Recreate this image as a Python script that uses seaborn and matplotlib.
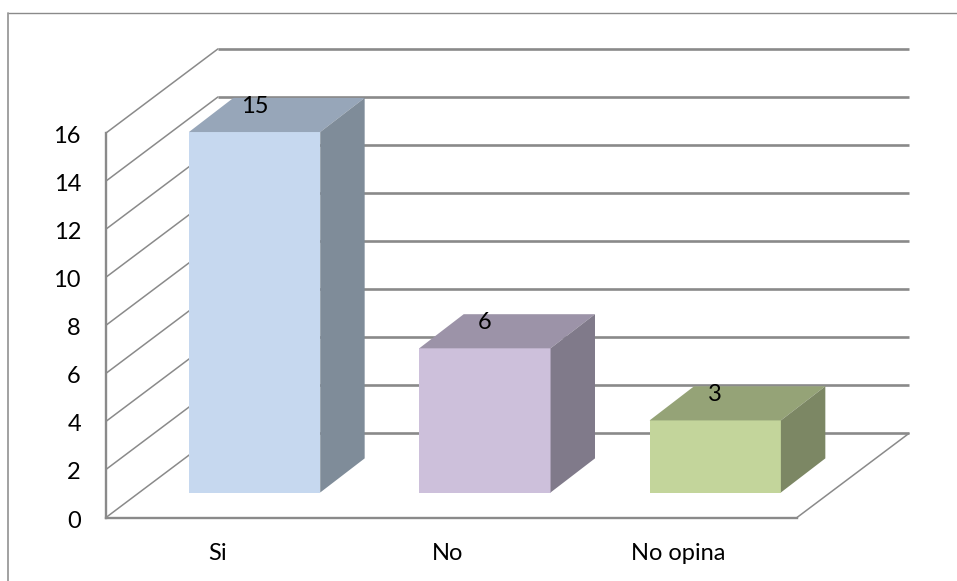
import matplotlib
matplotlib.use("Agg")
import matplotlib.pyplot as plt
from matplotlib.lines import Line2D
from matplotlib.patches import Polygon
from matplotlib.transforms import ScaledTranslation
import pandas as pd
import seaborn as sns

# Survey answers
categories = ["Si", "No", "No opina"]
counts = [15, 6, 3]
y_ticks = [0, 2, 4, 6, 8, 10, 12, 14, 16]

front_colors = ["#C6D8EF", "#CDC0DB", "#C3D59B"]
top_colors = ["#97A6B9", "#9C93A8", "#95A377"]
side_colors = ["#7F8C99", "#807A8A", "#7C8764"]

GRID = "#8A8A8A"
WALL_DX, WALL_DY = 0.486, 3.5      # depth of the chart floor, in data units
BAR_SHIFT_X, BAR_SHIFT_Y = 0.145, 1.04  # where bar fronts sit on the floor
BAR_DX, BAR_DY = 0.193, 1.42       # depth of each bar

W, H, DPI = 957, 581, 100
sns.set_theme(style="white")
plt.rcParams["font.family"] = ["Lato", "DejaVu Sans"]

fig = plt.figure(figsize=(W / DPI, H / DPI), dpi=DPI, facecolor="white")
ax = fig.add_axes([106 / W, 1 - 517.5 / H, 691 / W, 384.5 / H])
ax.patch.set_alpha(0)

df = pd.DataFrame({"respuesta": categories, "n": counts})
sns.barplot(data=df, x="respuesta", y="n", hue="respuesta", palette=front_colors,
            width=0.57, saturation=1, legend=False, ax=ax, zorder=5)

ax.set_xlim(-0.5, 2.5)
ax.set_ylim(0, 16)
ax.set_xlabel("")
ax.set_ylabel("")
ax.set_yticks(y_ticks)

# Back wall and side wall rules
x0, x1 = ax.get_xlim()
for k in y_ticks:
    ax.plot([x0 + WALL_DX, x1 + WALL_DX], [k + WALL_DY, k + WALL_DY], color=GRID,
            lw=1.9, clip_on=False, zorder=1, solid_capstyle="butt")
    ax.plot([x0, x0 + WALL_DX], [k, k + WALL_DY], color=GRID, lw=1.1,
            clip_on=False, zorder=1)
ax.plot([x1, x1 + WALL_DX], [0, WALL_DY], color=GRID, lw=1.1, clip_on=False, zorder=1)

# Extruded bars: the front face is shifted onto the floor, top and side are added
for i, (patch, value) in enumerate(zip(ax.patches, counts)):
    left = patch.get_x() + BAR_SHIFT_X
    right = left + patch.get_width()
    bottom = BAR_SHIFT_Y
    top = value + BAR_SHIFT_Y
    patch.set_x(left)
    patch.set_y(bottom)
    patch.set_height(top - bottom)
    patch.set_linewidth(0)
    patch.set_clip_on(False)
    ax.add_patch(Polygon([(left, top), (right, top), (right + BAR_DX, top + BAR_DY),
                          (left + BAR_DX, top + BAR_DY)],
                         facecolor=top_colors[i], edgecolor="none",
                         clip_on=False, zorder=5))
    ax.add_patch(Polygon([(right, bottom), (right + BAR_DX, bottom + BAR_DY),
                          (right + BAR_DX, top + BAR_DY), (right, top)],
                         facecolor=side_colors[i], edgecolor="none",
                         clip_on=False, zorder=5))
    ax.text((left + right) / 2, top + 1.08, str(value), ha="center", va="center",
            fontsize=17, color="black", zorder=6, clip_on=False)

# Front edges of the chart
sns.despine(ax=ax, top=True, right=True)
for name in ("left", "bottom"):
    ax.spines[name].set_color(GRID)
    ax.spines[name].set_linewidth(1.7)

ax.tick_params(axis="both", length=0, labelsize=17, labelcolor="black")
ax.tick_params(axis="y", pad=18)
ax.tick_params(axis="x", pad=18)
x_shift = ScaledTranslation(-4 / DPI, 0, fig.dpi_scale_trans)
for lab in ax.get_xticklabels():
    lab.set_transform(lab.get_transform() + x_shift)
y_shift = ScaledTranslation(0, -1.5 / DPI, fig.dpi_scale_trans)
for lab in ax.get_yticklabels():
    lab.set_transform(lab.get_transform() + y_shift)

# Outer frame of the chart area: only its top and left edges are visible
frame_y = 1 - 12.5 / H
frame_x = 8 / W
fig.add_artist(Line2D([frame_x, 1], [frame_y, frame_y], color=GRID, lw=1.0))
fig.add_artist(Line2D([frame_x, frame_x], [0, frame_y], color="#9A9A9A", lw=1.3))

fig.savefig("out.png", dpi=DPI)
